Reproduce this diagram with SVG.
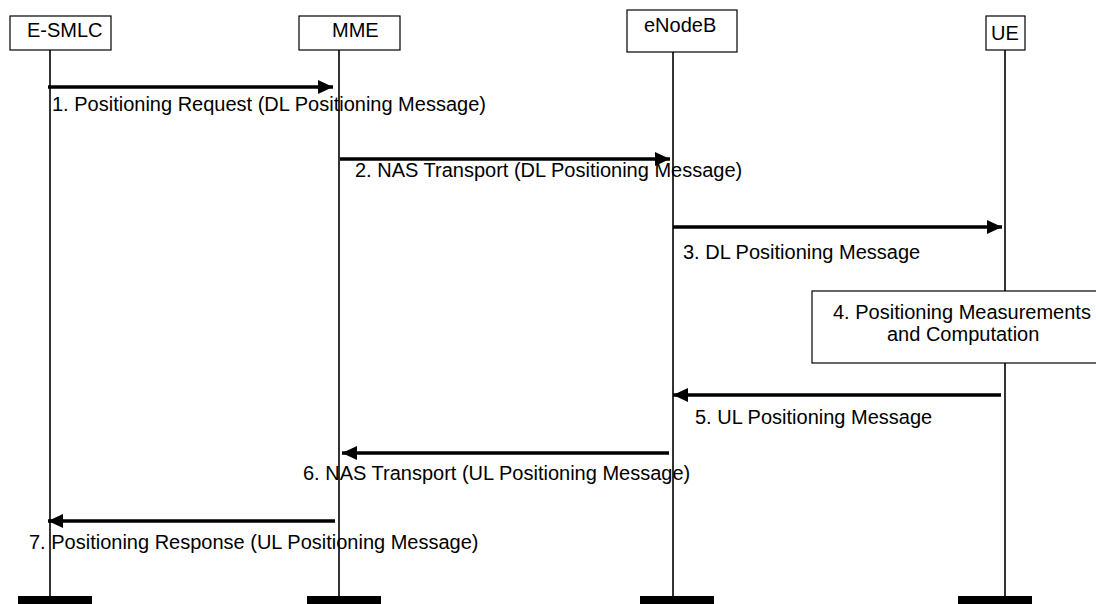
<svg xmlns="http://www.w3.org/2000/svg" width="1096" height="604" viewBox="0 0 1096 604">
<style>
text{font-family:"Liberation Sans",Arial,sans-serif;font-size:20px;fill:#000}
.box{fill:#fff;stroke:#000;stroke-width:1.2}
.life{stroke:#000;stroke-width:1.6}
.bar{fill:#000}
.msg{stroke:#000;stroke-width:3.5;fill:none}
</style>
<defs>
<marker id="ah" markerUnits="userSpaceOnUse" markerWidth="16" markerHeight="14" refX="15" refY="7" orient="auto">
<path d="M0,0 L15,7 L0,14 Z" fill="#000"/>
</marker>
</defs>
<g id="lifelines">
<line class="life" x1="50" y1="50" x2="50" y2="597"/>
<line class="life" x1="339" y1="50" x2="339" y2="597"/>
<line class="life" x1="673" y1="52" x2="673" y2="597"/>
<line class="life" x1="1005" y1="50" x2="1005" y2="597"/>
<rect class="bar" x="18" y="596" width="74" height="8"/>
<rect class="bar" x="307" y="596" width="74" height="8"/>
<rect class="bar" x="640" y="596" width="74" height="8"/>
<rect class="bar" x="958" y="596" width="74" height="8"/>
</g>
<g id="esmlc">
<rect class="box" x="10" y="16" width="101" height="34"/>
<text x="27" y="37">E-SMLC</text>
</g>
<g id="mme">
<rect class="box" x="299" y="16" width="101" height="34"/>
<text x="332" y="37">MME</text>
</g>
<g id="enodeb">
<rect class="box" x="627" y="10" width="110" height="42"/>
<text x="644" y="32">eNodeB</text>
</g>
<g id="ue">
<rect class="box" x="986" y="16" width="39" height="34"/>
<text x="991" y="40">UE</text>
</g>
<g id="step4">
<rect class="box" x="812" y="291" width="290" height="72"/>
<text x="833" y="319">4. Positioning Measurements</text>
<text x="887" y="341">and Computation</text>
</g>
<g id="connectors">
<line class="msg" x1="48" y1="87" x2="333" y2="87" stroke-width="4" marker-end="url(#ah)"/>
<line class="msg" x1="340" y1="159" x2="670" y2="159" marker-end="url(#ah)"/>
<line class="msg" x1="673" y1="227" x2="1002" y2="227" marker-end="url(#ah)"/>
<line class="msg" x1="1001" y1="395" x2="673" y2="395" marker-end="url(#ah)"/>
<line class="msg" x1="669" y1="453" x2="342" y2="453" marker-end="url(#ah)"/>
<line class="msg" x1="335" y1="521" x2="48" y2="521" marker-end="url(#ah)"/>
</g>
<g id="labels">
<text x="52" y="111">1. Positioning Request (DL Positioning Message)</text>
<text x="355" y="177">2. NAS Transport (DL Positioning Message)</text>
<text x="683" y="259">3. DL Positioning Message</text>
<text x="695" y="424">5. UL Positioning Message</text>
<text x="303" y="480">6. NAS Transport (UL Positioning Message)</text>
<text x="29" y="549">7. Positioning Response (UL Positioning Message)</text>
</g>
</svg>
